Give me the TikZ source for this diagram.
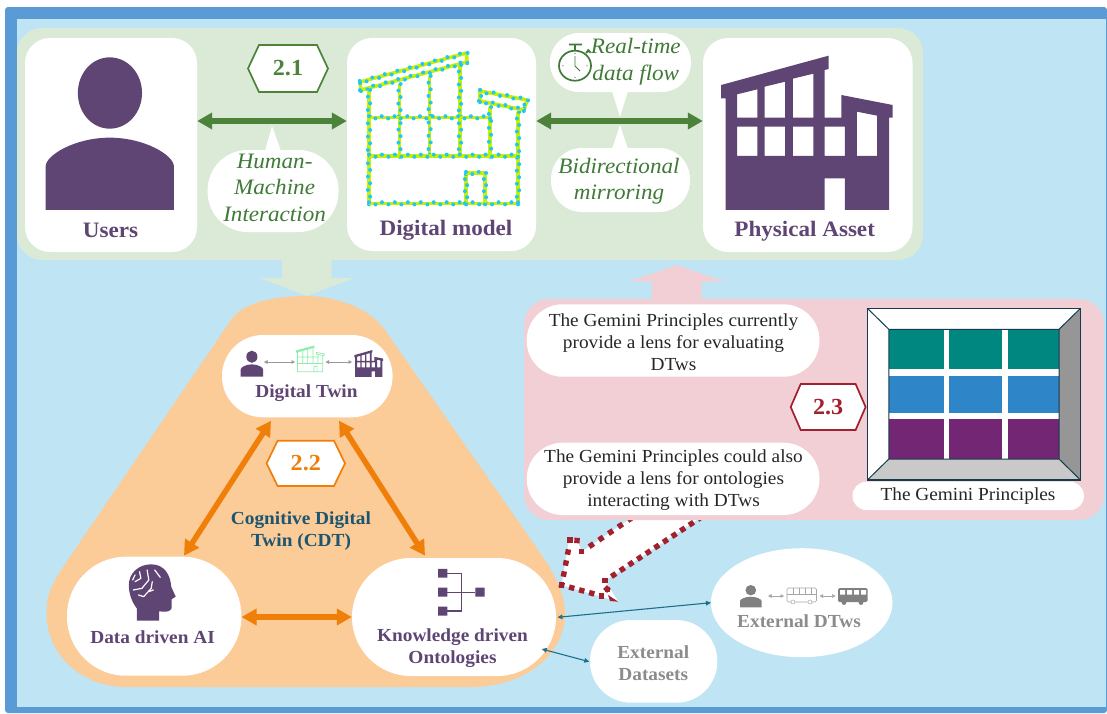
\documentclass[tikz,border=0pt]{standalone}
\usepackage{fontspec}
\setmainfont{Liberation Serif}[FakeStretch=1.05]
\usetikzlibrary{arrows.meta,calc,shapes.geometric}
\definecolor{frameblue}{HTML}{5B9BD5}
\definecolor{skyblue}{HTML}{BFE4F4}
\definecolor{panelgreen}{HTML}{DAEAD6}
\definecolor{darkgreen}{HTML}{4C8239}
\definecolor{txtgreen}{HTML}{3F7A37}
\definecolor{purpleicon}{HTML}{5E4573}
\definecolor{panelorange}{HTML}{FBCB98}
\definecolor{strongorange}{HTML}{F07F09}
\definecolor{panelpink}{HTML}{F1CFD5}
\definecolor{darkred}{HTML}{A3202F}
\definecolor{navytxt}{HTML}{1C5570}
\definecolor{tealline}{HTML}{1F6E8C}
\definecolor{gemteal}{HTML}{00877F}
\definecolor{gemblue}{HTML}{2E86C8}
\definecolor{gempurple}{HTML}{732673}
\definecolor{greytxt}{HTML}{8C8C8C}
\definecolor{greyicon}{HTML}{808080}
\definecolor{yellowgreen}{HTML}{C8F000}
\definecolor{dotcyan}{HTML}{22C8F0}
\definecolor{tinygreen}{HTML}{8CEFA8}
\tikzset{
  boldlabel/.style={font=\fontsize{22}{26}\selectfont\bfseries,text=purpleicon,align=center,inner sep=0},
  smalllabel/.style={font=\fontsize{18.4}{22}\selectfont\bfseries,text=purpleicon,align=center,inner sep=0},
  italiclabel/.style={font=\fontsize{22}{26.5}\selectfont\itshape,text=txtgreen,align=center,inner sep=0},
  plainlabel/.style={font=\fontsize{18.4}{22.2}\selectfont,text=black!85,align=center,inner sep=0},
  biggreen/.style={draw=darkgreen,line width=6pt,{Triangle[length=15pt,width=16pt]}-{Triangle[length=15pt,width=16pt]}},
  bigorange/.style={draw=strongorange,line width=5.5pt,{Triangle[length=15pt,width=16pt]}-{Triangle[length=15pt,width=16pt]}},
  thinteal/.style={draw=tealline,line width=1.1pt,{Triangle[length=5pt,width=4.5pt]}-{Triangle[length=5pt,width=4.5pt]}},
  tinyarrow/.style={draw=#1,line width=.5pt,{Triangle[length=3.5pt,width=3.5pt]}-{Triangle[length=3.5pt,width=3.5pt]}},
  gemline/.style={draw=navytxt!70!black,line width=1.4pt},
}
\newcommand\rbox[7]{%
  \pgfmathsetmacro\myw{#4-#2}\pgfmathsetmacro\myh{#5-#3}%
  \node[fill=#7,rounded corners=#6pt,minimum width=\myw pt,minimum height=\myh pt,inner sep=0] (#1) at ({(#2+#4)/2},{(#3+#5)/2}) {};}
\newcommand\hexa[8]{%
  \draw[#7,line width=1.7pt,fill=white,line join=miter] (#2,{(#4+#5)/2}) -- ({#2+#6},#4) -- ({#3-#6},#4) -- (#3,{(#4+#5)/2}) -- ({#3-#6},#5) -- ({#2+#6},#5) -- cycle;
  \node[font=\fontsize{23}{24}\selectfont\bfseries,text=#7,inner sep=0] (#1) at ({(#2+#3)/2},{(#4+#5)/2}) {#8};}
% a chain of square dashes between two points
\newcommand\redseg[4]{%
  \pgfmathsetmacro\seglen{veclen(#3-#1,#4-#2)}%
  \pgfmathtruncatemacro\segn{max(1,round(\seglen/10.7))}%
  \foreach \myi in {0,...,\segn}{%
    \pgfmathsetmacro\myt{\myi/\segn}%
    \coordinate (pp) at ($(#1,#2)!\myt!(#3,#4)$);
    \draw[darkred,line width=5.4pt] ($(pp)!2.7pt!(#3,#4)$) -- ($(pp)!-2.7pt!(#3,#4)$);
  }}
% a chain of cyan dots on a yellow line
\newcommand\cyanseg[4]{%
  \draw[yellowgreen,line width=3.6pt] (#1,#2) -- (#3,#4);
  \pgfmathsetmacro\seglen{veclen(#3-#1,#4-#2)}%
  \pgfmathtruncatemacro\segn{max(1,round(\seglen/6.5))}%
  \foreach \myi in {0,...,\segn}{%
    \pgfmathsetmacro\myt{\myi/\segn}%
    \pgfmathsetmacro\myo{ifthenelse(mod(\myi,2)==0,1.1,-1.1)}%
    \coordinate (pq) at ($(#1,#2)!\myt!(#3,#4)$);
    \fill[dotcyan] ($(pq)!\myo pt!90:(#3,#4)$) circle (2);
  }}
\newcommand\personpath{(313,172) .. controls (262,172) and (222,220) .. (222,279) .. controls (222,338) and (262,386) .. (313,386) .. controls (364,386) and (405,338) .. (405,279) .. controls (405,220) and (364,172) .. (313,172) -- cycle
 (130,630) -- (130,500) .. controls (130,465) and (215,413) .. (313,413) .. controls (411,413) and (496,465) .. (496,500) -- (496,630) -- cycle}
\newcommand\bldgpath{(501,255) -- (798,167) -- (798,207) -- (787,210) -- (787,353) -- (833,353) -- (833,285) -- (975,315) -- (975,353) -- (965,353) -- (965,630) -- (843,630) -- (843,535) -- (787,535) -- (787,630) -- (513,630) -- (513,295) -- (501,295) -- cycle
 (545,283) -- (601,268) -- (601,353) -- (545,353) -- cycle
 (621,260) -- (678,245) -- (678,353) -- (621,353) -- cycle
 (699,236) -- (756,221) -- (756,353) -- (699,353) -- cycle
 (545,380) rectangle (601,468) (621,380) rectangle (678,468) (699,380) rectangle (756,468) (787,380) rectangle (843,468)
 (876,335) -- (932,347) -- (932,468) -- (876,468) -- cycle}
\newcommand\modelpath{(1028,244) -- (1330,160) -- (1332,186) -- (1032,270) -- cycle
 (1030,257) -- (1331,173)
 (1052,272) -- (1052,610) -- (1477,610) -- (1477,335)
 (1140,250) -- (1140,467) (1225,228) -- (1225,467) (1312,195) -- (1312,467) (1397,320) -- (1397,467)
 (1052,352) -- (1397,352) (1052,467) -- (1477,467)
 (1370,272) -- (1505,300) -- (1495,330) -- (1370,302) -- cycle
 (1330,610) -- (1330,518) -- (1382,518) -- (1382,610)}
\begin{document}
\begin{tikzpicture}[x=1pt,y=-1pt]
\useasboundingbox (0,0) rectangle (1107,713);
\fill[white] (0,0) rectangle (1107,713);
\fill[frameblue,rounded corners=3pt] (5,7) -- (1107,7) -- (1107,713) -- (5,713) -- cycle;
\fill[skyblue] (17,19) rectangle (1105.5,707);

% block arrows behind panels
\fill[panelgreen] (282,255) -- (282,278) -- (259.6,278) -- (307,296) -- (354,278) -- (331.5,278) -- (331.5,255) -- cycle;
\fill[panelpink] (652,305) -- (652,281.7) -- (628.6,281.7) -- (676.7,265) -- (725,281.7) -- (701.7,281.7) -- (701.7,305) -- cycle;

% green panel
\rbox{greenpanel}{17}{28}{923}{260}{25}{panelgreen}
\rbox{users}{25}{38}{197}{252}{25}{white}
\rbox{model}{347}{38}{536}{251}{25}{white}
\rbox{asset}{703}{38}{912.5}{252}{25}{white}

% call-outs
\fill[white] (265,151) -- (272,126) -- (281,151) -- cycle;
\rbox{hmi}{207.6}{150}{338.5}{232}{40}{white}
\fill[white] (612,91) -- (620,117) -- (628,91) -- cycle;
\rbox{rtd}{550}{33}{691}{92}{29}{white}
\fill[white] (612,149) -- (620,125) -- (628,149) -- cycle;
\rbox{bdm}{551}{148}{690}{212}{31}{white}

% icons of the top row
\begin{scope}[xscale=.3507,yscale=.3333]
  \fill[purpleicon,even odd rule] \personpath;
\end{scope}
\foreach \xa/\ya/\xb/\yb in {360/82/466.5/53,466.5/53/467/62,467/62/361/90,361/90/360/82,
   369/90/369/203.3,369/203.3/518/203.3,518/112/518/203.3,
   399.5/84/399.5/155.7,429.6/76/429.6/155.7,460/65/460/155.7,490/107/490/155.7,
   369/117.3/490/117.3,369/155.7/518/155.7,
   480/91/527/100,527/100/524/110,524/110/480/101,480/101/480/91,
   466/203.3/466/173,466/173/485/173,485/173/485/203.3}{\cyanseg{\xa}{\ya}{\xb}{\yb}}
\begin{scope}[shift={(540,0)},xscale=.3617,yscale=.3333]
  \fill[purpleicon,even odd rule] \bldgpath;
\end{scope}

% stopwatch
\begin{scope}[txtgreen]
  \draw[line width=1.7pt] (575,65.7) ellipse (16 and 15);
  \draw[line width=1.8pt] (575,50.5) -- (575,45) (569,44.5) -- (582,44.5) (586,53) -- (589,50) (587.5,49.5) -- (590.5,52.5);
  \draw[line width=.9pt] (575,56) -- (575,66) -- (580,71);
  \fill (575,53.5) circle (.6) (575,77.5) circle (.6) (563,65.7) circle (.6) (587,65.7) circle (.6);
\end{scope}

% top arrows
\coordinate (rowarrow) at (0,121);
\draw[biggreen] (users.east |- rowarrow) -- (model.west |- rowarrow);
\draw[biggreen] (model.east |- rowarrow) -- (asset.west |- rowarrow);

% top texts
\node[boldlabel] (lusers) at (110.5,230.7) {Users};
\node[boldlabel] (lmodel) at (446,230) {Digital model};
\node[boldlabel] (lasset) at (804.7,231) {Physical Asset};
\node[italiclabel] (thmi) at (274.6,187.5) {Human-\\Machine\\Interaction};
\node[italiclabel] (trtd) at (635.8,61.5) {Real-time\\data flow};
\node[italiclabel] (tbdm) at (619,181) {Bidirectional\\mirroring};
\hexa{h21}{248}{328}{45}{92}{11}{darkgreen}{2.1}

% orange triangle
\fill[panelorange] (231,320) .. controls (244,301) and (278,296) .. (306,296) .. controls (335,296) and (370,308) .. (385,330) -- (543,557) .. controls (555,575) and (565,595) .. (565,613) .. controls (565,655) and (525,687) .. (470,687) -- (126,687) .. controls (82,687) and (46.5,655) .. (46.5,613) .. controls (46.5,596) and (51,587) .. (59,573) -- cycle;

% block arrow of white, dashed edge
\fill[white] (630,519) -- (581.7,551.7) -- (577,539.5) -- (569,540) -- (561.7,585) -- (618.3,601.7) -- (605,580.7) -- (700,518) -- cycle;
\redseg{630}{519}{581.7}{551.7}
\redseg{577}{540.5}{570}{540}
\redseg{568}{552}{561.7}{585}
\redseg{561.7}{585}{601.7}{596}
\redseg{700}{518}{605}{580.7}
\redseg{607}{589}{607.5}{589.5}
\fill[darkred] (608,595) -- (618.3,601.7) -- (610,601) -- cycle;

% pink panel
\rbox{pinkpanel}{524}{299}{1104}{520}{25}{panelpink}
\rbox{gem1}{526.7}{304.3}{819.5}{376.7}{36}{white}
\rbox{gem2}{526.7}{442.7}{819.5}{515}{36}{white}
\node[plainlabel] (tgem1) at (673.5,342) {The Gemini Principles currently\\provide a lens for evaluating\\DTws};
\node[plainlabel] (tgem2) at (673.5,480) {The Gemini Principles could also\\provide a lens for ontologies\\interacting with DTws};

% Gemini figure
\fill[white] (867.4,308.3) rectangle (1080.5,480);
\fill[black!41] (1080.5,308.3) -- (1059,329.3) -- (1059,459) -- (1080.5,480) -- cycle;
\fill[black!21] (867.4,480) -- (888.8,459) -- (1059,459) -- (1080.5,480) -- cycle;
\foreach \ya/\yb/\col in {329.3/369.3/gemteal,375.7/413.3/gemblue,419.3/459/gempurple}
  \foreach \xa/\xb in {888.8/943.8,949.4/1001.9,1007.5/1059}
    \fill[\col] (\xa,\ya) rectangle (\xb,\yb);
\draw[gemline] (867.4,308.3) rectangle (1080.5,480);
\draw[navytxt!70!black,line width=1pt] (867.4,308.3) -- (888.8,329.3) -- (1059,329.3) -- (1080.5,308.3) (867.4,480) -- (888.8,459) -- (1059,459) -- (1080.5,480) (888.8,329.3) -- (888.8,459) (1059,329.3) -- (1059,459);
\rbox{gemlab}{852.5}{481.7}{1084}{510}{14}{white}
\node[plainlabel] (tgemlab) at (968,496.5) {The Gemini Principles};
\hexa{h23}{790.7}{865.6}{384}{430}{10}{darkred}{2.3}

% triangle nodes
\rbox{twin}{222}{335}{392.6}{417.3}{41}{white}
\rbox{dai}{67}{556.7}{241.4}{675.7}{59}{white}
\rbox{kdo}{352}{558}{556}{676}{59}{white}
\coordinate (tw1) at (271,420.7);
\coordinate (da1) at (184,555.7);
\coordinate (tw2) at (339,420.7);
\coordinate (kd1) at (425,555.7);
\coordinate (lowrow) at (0,617);
\draw[bigorange] (tw1) -- (da1);
\draw[bigorange] (tw2) -- (kd1);
\draw[bigorange] (dai.east |- lowrow) -- (kdo.west |- lowrow);
\hexa{h22}{266.6}{345}{440.7}{486}{11}{strongorange}{2.2}
\node[smalllabel,text=navytxt] (tcdt) at (301,531) {Cognitive Digital\\Twin (CDT)};
\node[smalllabel] (ttwin) at (306.5,393) {Digital Twin};
\node[smalllabel] (tdai) at (152.6,637) {Data driven AI};
\node[smalllabel] (tkdo) at (452.5,648) {Knowledge driven\\Ontologies};

% digital twin mini icons
\begin{scope}[shift={(232.8,340.9)},xscale=.0609,yscale=.0568]
  \fill[purpleicon,even odd rule] \personpath;
\end{scope}
\begin{scope}[shift={(235.3,336.8)},xscale=.0592,yscale=.0572]
  \draw[tinygreen,line width=.7pt] \modelpath;
\end{scope}
\begin{scope}[shift={(324.2,340.4)},xscale=.0603,yscale=.0577]
  \fill[purpleicon,even odd rule] \bldgpath;
\end{scope}
\draw[tinyarrow=greyicon!80] (264,362) -- (295,362);
\draw[tinyarrow=greyicon!80] (325.5,362) -- (352,362);

% brain
\begin{scope}[shift={(30,280)},xscale=.3444,yscale=.3333]
  \fill[purpleicon] (310,1022) -- (310,985) .. controls (295,965) and (287,940) .. (287,915) .. controls (287,880) and (315,853) .. (352,853) .. controls (390,853) and (408,885) .. (410,920) -- (423,950) -- (411,958) -- (411,985) .. controls (408,995) and (395,997) .. (375,994) -- (375,1022) -- cycle;
  \draw[white,line width=1.2pt,line cap=round,line join=round] (318,875) -- (322,895) -- (305,905) (340,870) -- (345,900) -- (325,925) -- (300,930) (362,870) -- (378,892) (355,905) -- (352,925) -- (330,950) -- (315,945) (345,935) -- (358,930) (305,885) -- (298,900);
\end{scope}
% ontology icon
\begin{scope}[shift={(30,280)},xscale=.3444,yscale=.3333]
  \fill[purpleicon] (1185,867) rectangle (1212,893) (1185,923) rectangle (1212,950) (1185,980) rectangle (1212,1007) (1293,923) rectangle (1320,950);
  \draw[purpleicon,line width=1.1pt] (1212,880) -- (1253,880) -- (1253,993) -- (1212,993) (1212,937) -- (1293,937);
\end{scope}

% external nodes
\node[fill=white,ellipse,minimum width=181.6pt,minimum height=109pt,inner sep=0] (extdt) at (801.7,602.7) {};
\rbox{extds}{590}{620}{717.3}{702.7}{41}{white}
\node[smalllabel,text=greytxt] (textdt) at (799,621.5) {External DTws};
\node[smalllabel,text=greytxt] (textds) at (653.3,663) {External\\Datasets};
\coordinate (k1) at (557.4,617.3);
\coordinate (e1) at (711,602.7);
\coordinate (k2) at (541.7,649);
\coordinate (d1) at (589.3,661.7);
\draw[thinteal] (k1) -- (e1);
\draw[thinteal] (k2) -- (d1);

% external mini icons
\begin{scope}[shift={(732.4,576.6)},xscale=.0587,yscale=.0487]
  \fill[greyicon,even odd rule] \personpath;
\end{scope}
\draw[tinyarrow=greyicon!70] (768,596) -- (784,596);
\draw[tinyarrow=greyicon!70] (819.5,596) -- (835.6,596);
\draw[greyicon!70,line width=.6pt,rounded corners=1.5pt] (787,588) rectangle (816.5,602);
\draw[greyicon!70,line width=.5pt] (787,594) -- (816.5,594) (793,588) -- (793,594) (799,588) -- (799,594) (805,588) -- (805,594) (811,588) -- (811,594);
\fill[white] (793,602) circle (2) (810,602) circle (2);
\draw[greyicon!70,line width=.5pt] (793,602) circle (2) (810,602) circle (2);
\fill[greyicon,rounded corners=1.5pt] (838,588) rectangle (867.5,602);
\fill[white] (840,590) rectangle (845,594.5) (847,590) rectangle (852,594.5) (854,590) rectangle (859,594.5) (861,590) rectangle (866,594.5);
\fill[greyicon] (844,602.5) circle (2.4) (861,602.5) circle (2.4);
\end{tikzpicture}
\end{document}
